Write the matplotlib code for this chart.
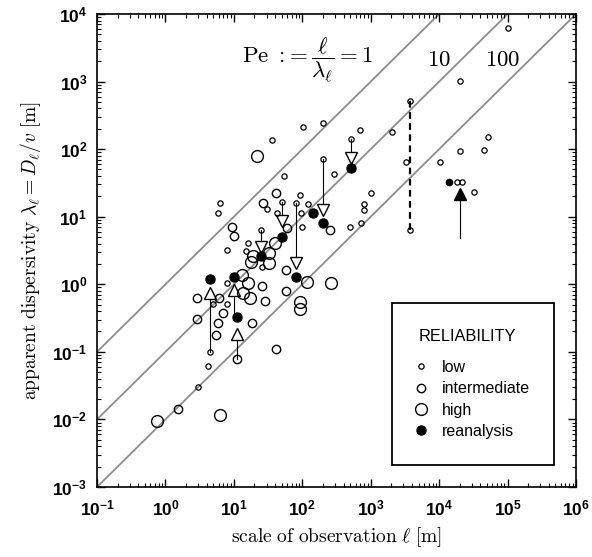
import numpy as np
import matplotlib.pyplot as plt
from matplotlib.lines import Line2D
from matplotlib.ticker import FuncFormatter

plt.rcParams['mathtext.fontset'] = 'custom'
plt.rcParams['mathtext.rm'] = 'Liberation Sans'
plt.rcParams['mathtext.bf'] = 'Liberation Sans:bold'
plt.rcParams['font.family'] = ['Liberation Sans', 'DejaVu Sans']

# reliability classes (scale l [m], dispersivity [m])
low_x = [104, 200, 700, 2030, 520, 36, 200, 290, 54, 91, 80, 50, 123, 97, 100,
         1010, 810, 810, 724, 500, 3300, 1.0e5, 2.03e4, 3800, 3800, 1.04e4,
         2.03e4, 4.55e4, 5.15e4, 1.85e4, 2.15e4, 3.28e4, 6.3, 5.9, 30, 43, 7.9,
         25, 16, 15, 25.6, 5.0, 8.0, 8.0, 4.5, 4.2, 3.0]
low_y = [215, 247, 192, 178, 140, 137, 71, 43, 40, 20.7, 16, 16.7, 15.5, 11.5, 7.0,
         22.3, 15.5, 12.6, 8.0, 7.1, 64, 6150, 1020, 516, 6.4, 64,
         95, 97, 150, 32.4, 32.4, 23.3, 16, 11.5, 12.9, 11.5, 3.2,
         6.4, 4.1, 3.15, 1.83, 0.51, 1.05, 0.51, 0.10, 0.061, 0.030]

mid_x = [41, 26.5, 9.3, 10, 59, 255, 58, 58, 25.6, 28.6, 18.6, 41, 2.9, 6.0,
         2.9, 7.0, 5.9, 5.5, 11.1, 1.55]
mid_y = [22.3, 16, 7.0, 5.2, 6.8, 6.3, 1.62, 0.80, 0.95, 0.56, 0.27, 0.11, 0.62, 0.62,
         0.31, 0.38, 0.27, 0.18, 0.079, 0.0145]

high_x = [21.6, 13, 16, 13.5, 17.3, 19.3, 33, 40, 33, 18, 116, 261, 93, 93, 0.76, 6.3]
high_y = [78.5, 1.38, 1.04, 0.74, 0.62, 2.6, 2.9, 4.1, 2.05, 2.1, 1.07, 1.04, 0.55, 0.43,
          0.0095, 0.0117]

re_x = [520, 200, 50, 80, 25, 145, 4.5, 10.2, 11.1]
re_y = [52, 8.0, 5.0, 1.26, 2.6, 11.3, 1.18, 1.30, 0.33]
re_small_x = [1.37e4]
re_small_y = [32.4]

# reanalysis arrows
dn_x = [520, 200, 50, 80, 25]
dn_from = [140, 71, 16.7, 16, 6.4]
dn_tri = [73, 12.6, 8.6, 2.05, 3.6]
up_x = [4.5, 11.1, 10.2]
up_from = [0.10, 0.079, 0.33]
up_tri = [0.74, 0.185, 0.83]
bk_x = [2.03e4]
bk_from = [4.85]
bk_tri = [22]
dash_x = [3800]
dash_from = [516]
dash_to = [6.4]

pe_vals = [1, 10, 100]
x_decades = range(-1, 7)
y_decades = range(-3, 5)

fig = plt.figure(figsize=(5.92, 5.57), dpi=100)
ax = fig.add_axes([0.1639, 0.1257, 0.8091, 0.8492])
ax.set_xscale('log')
ax.set_yscale('log')
ax.set_xlim(1e-1, 1e6)
ax.set_ylim(1e-3, 1e4)

xx = np.array([1e-1, 1e6])
for pe in pe_vals:
    ax.plot(xx, xx / pe, color='#8c8c8c', lw=1.3, zorder=1)

for x, a, b in zip(dn_x, dn_from, dn_tri):
    ax.plot([x, x], [a, b], color='k', lw=0.8, zorder=2)
for x, a, b in zip(up_x, up_from, up_tri):
    ax.plot([x, x], [a, b], color='k', lw=0.8, zorder=2)
for x, a, b in zip(bk_x, bk_from, bk_tri):
    ax.plot([x, x], [a, b], color='k', lw=0.8, zorder=2)
for x, a, b in zip(dash_x, dash_from, dash_to):
    ax.plot([x, x], [a, b], color='k', lw=1.6, ls=(0, (3, 2)), zorder=2)

ax.plot(dn_x, dn_tri, 'v', ms=8.5, mfc='white', mec='k', mew=1.0, zorder=3)
ax.plot(up_x, up_tri, '^', ms=8.5, mfc='white', mec='k', mew=1.0, zorder=3)
ax.plot(bk_x, bk_tri, '^', ms=8.5, mfc='k', mec='k', zorder=3)

ax.plot(low_x, low_y, 'o', ms=3.8, mfc='none', mec='k', mew=0.9, zorder=4)
ax.plot(mid_x, mid_y, 'o', ms=6, mfc='none', mec='k', mew=1.0, zorder=4)
ax.plot(high_x, high_y, 'o', ms=8.5, mfc='none', mec='k', mew=1.0, zorder=4)
ax.plot(re_x, re_y, 'o', ms=6.5, mfc='k', mec='k', zorder=5)
ax.plot(re_small_x, re_small_y, 'o', ms=4.5, mfc='k', mec='k', zorder=5)

ax.text(0.44, 0.903, r'$\mathrm{Pe}\ :\!= \dfrac{\ell}{\lambda_\ell} = 1$', transform=ax.transAxes,
        fontsize=16.5, ha='center', va='center', math_fontfamily='cm')
ax.text(0.714, 0.903, r'$10$', transform=ax.transAxes,
        fontsize=16.5, ha='center', va='center', math_fontfamily='cm')
ax.text(0.846, 0.903, r'$100$', transform=ax.transAxes,
        fontsize=16.5, ha='center', va='center', math_fontfamily='cm')

ax.set_xlabel(r'$\mathrm{scale\ of\ observation}\ \ell\ [\mathrm{m}]$', fontsize=14,
              math_fontfamily='cm', labelpad=5)
ax.set_ylabel(r'$\mathrm{apparent\ dispersivity}\ \lambda_\ell = D_\ell/v\ [\mathrm{m}]$',
              fontsize=14, math_fontfamily='cm', labelpad=7)

# only the decades inside the limits, so no hidden labels hang outside the figure
ax.set_xticks([10.0 ** k for k in x_decades])
ax.set_yticks([10.0 ** k for k in y_decades])
fmt = FuncFormatter(lambda v, p: r'$\mathbf{10^{%d}}$' % round(np.log10(v)))
ax.xaxis.set_major_formatter(fmt)
ax.yaxis.set_major_formatter(fmt)
ax.tick_params(which='both', direction='in', top=True, right=True, labelsize=12.5)
ax.tick_params(which='major', length=6, width=1.0)
ax.tick_params(which='minor', length=3, width=0.8)
ax.tick_params(axis='x', pad=8)
ax.tick_params(axis='y', pad=7)
for s in ax.spines.values():
    s.set_linewidth(1.2)

handles = [
    Line2D([], [], ls='none', marker='o', ms=3.8, mfc='none', mec='k', mew=0.9),
    Line2D([], [], ls='none', marker='o', ms=6, mfc='none', mec='k', mew=1.0),
    Line2D([], [], ls='none', marker='o', ms=8.5, mfc='none', mec='k', mew=1.0),
    Line2D([], [], ls='none', marker='o', ms=6.5, mfc='k', mec='k'),
]
labels = ['low', 'intermediate', 'high', 'reanalysis']
leg = ax.legend(handles, labels, title='RELIABILITY', loc='upper left',
                bbox_to_anchor=(0.616, 0.0507, 0.338, 0.338), mode='expand',
                borderaxespad=0, fontsize=11.5, title_fontsize=11.8, alignment='left',
                borderpad=1.65, labelspacing=0.4, handlelength=0.3, handletextpad=1.15,
                fancybox=False, framealpha=1, edgecolor='k')
leg.get_frame().set_linewidth(1.3)
leg._legend_box.sep = 11  # wider gap under the title

fig.savefig('out.png', dpi=100)
